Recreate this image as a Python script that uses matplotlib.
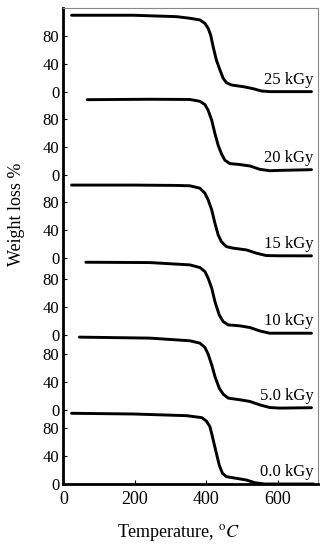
import matplotlib
matplotlib.use("Agg")
import matplotlib.pyplot as plt
import numpy as np

plt.rcParams["font.family"] = ["Liberation Serif", "DejaVu Serif"]
plt.rcParams["mathtext.fontset"] = "stix"

# dose labels, bottom to top
doses = ["0.0 kGy", "5.0 kGy", "10 kGy", "15 kGy", "20 kGy", "25 kGy"]
# vertical offset of each stacked trace (weight-% units)
offsets = [0, 106, 213, 323, 441, 560]

t_00 = [23, 196, 345, 387, 400, 410, 417, 427, 436, 445, 456, 484, 512, 535, 563, 700]
w_00 = [101, 100, 97.6, 94.8, 90, 81.9, 67.6, 46.1, 27.1, 15.3, 10.5, 8.1, 5.7, 1.9, 0, 0]

t_05 = [45, 242, 354, 382, 396, 405, 415, 424, 436, 447, 461, 494, 522, 549, 577, 605, 694]
w_05 = [103.8, 102.4, 98.6, 95.2, 89, 79.5, 64.3, 47.6, 31, 22.4, 16.7, 14.3, 11.9, 7.1, 3.3, 2.4, 3.0]

t_10 = [63, 242, 354, 382, 396, 405, 415, 424, 436, 447, 461, 494, 522, 549, 577, 605, 694]
w_10 = [103.8, 103.3, 100, 96.2, 90.5, 81, 66.7, 47.6, 28.6, 19, 14.3, 12.9, 10.5, 5.7, 2.4, 2.4, 2.4]

t_15 = [23, 196, 317, 354, 382, 396, 405, 415, 424, 433, 442, 456, 475, 512, 540, 568, 605, 694]
w_15 = [104, 104, 103.5, 103, 99.5, 92.4, 82.9, 68.6, 49.6, 32.9, 23.3, 16.1, 13.9, 11.4, 6.7, 3.3, 3.0, 2.9]

t_20 = [67, 242, 354, 382, 396, 405, 415, 424, 433, 442, 452, 466, 494, 522, 549, 577, 605, 694]
w_20 = [108, 108.6, 108.3, 105.7, 101, 92.9, 78.6, 59.6, 42.9, 31, 21.4, 16.7, 15.3, 13.3, 8.6, 6.5, 7.0, 8.0]

t_25 = [23, 196, 317, 354, 382, 396, 405, 412, 419, 428, 438, 447, 456, 470, 503, 531, 554, 577, 694]
w_25 = [109.6, 109.6, 107.6, 105.3, 102.9, 98, 91, 81.4, 64.7, 45.7, 31.4, 19.6, 13.3, 10, 7.6, 4.7, 1.4, 0.5, 0.5]

temps = [t_00, t_05, t_10, t_15, t_20, t_25]
weights = [w_00, w_05, w_10, w_15, w_20, w_25]

x_ticks = [0, 200, 400, 600]
y_ticks = [0, 40, 80]

fig = plt.figure(figsize=(3.35, 5.5), dpi=100)
ax = fig.add_axes([0.189, 0.12, 0.76, 0.8655])

for t, w, off, lab in zip(temps, weights, offsets, doses):
    w = np.asarray(w)
    ax.plot(t, w + off, color="black", lw=2.1, solid_joinstyle="round",
            solid_capstyle="round")
    ax.text(699, off + w[-1] + 17, lab, ha="right", va="center", fontsize=12)

ax.set_xlim(0, 712)
ax.set_ylim(0, 680)

yt = [o + v for o in offsets for v in y_ticks]
ax.set_yticks(yt)
ax.set_yticklabels([str(v) for _ in offsets for v in y_ticks], fontsize=12)
ax.set_xticks(x_ticks)
ax.set_xticklabels([str(v) for v in x_ticks], fontsize=13)
ax.tick_params(direction="in", length=3, width=0.8, pad=3)
ax.tick_params(axis="x", pad=5)

for s in ["left", "bottom"]:
    ax.spines[s].set_linewidth(2.0)
    ax.spines[s].set_color("black")
for s in ["top", "right"]:
    ax.spines[s].set_linewidth(0.8)
    ax.spines[s].set_color("#888888")

fig.text(0.531, 0.031, r"Temperature, $^{\rm o}C$", ha="center", va="center",
         fontsize=13)
fig.text(0.048, 0.611, "Weight loss %", rotation=90, ha="center", va="center",
         fontsize=13)

fig.savefig("out.png", dpi=100)
